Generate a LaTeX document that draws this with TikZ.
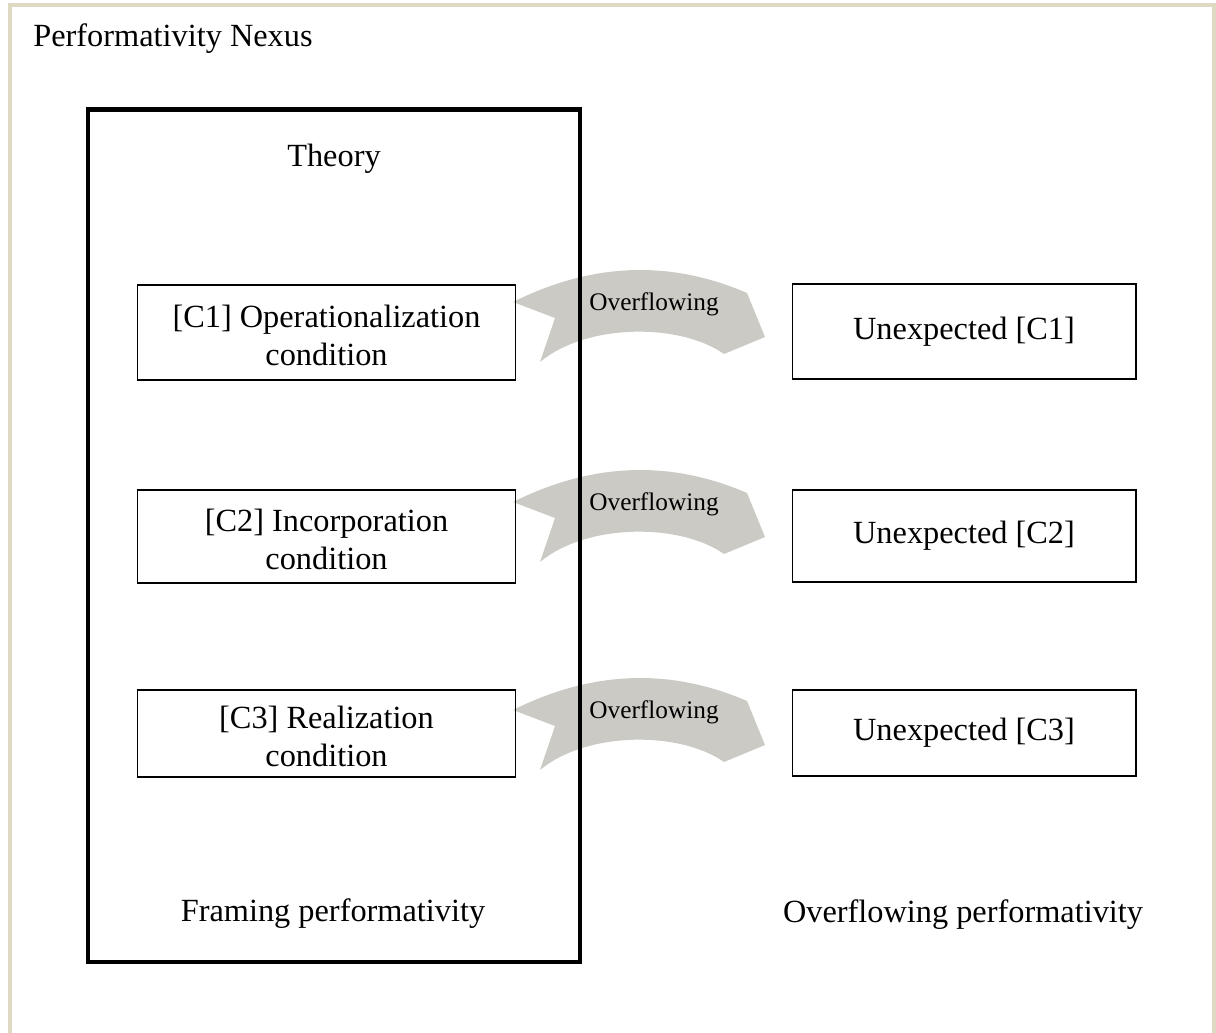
\documentclass[tikz,border=0pt]{standalone}
\usepackage{fontspec}
\setmainfont{Liberation Serif}
\definecolor{framecol}{HTML}{DDD9C3}
\definecolor{arrowgray}{HTML}{CBCAC5}
\begin{document}
\begin{tikzpicture}[x=0.02cm,y=-0.02cm,
  box/.style={draw=black, line width=0.6pt, inner sep=0pt, align=center,
    font=\fontsize{18.4}{21.6}\selectfont},
  ctext/.style={inner sep=0pt, align=center, font=\fontsize{18.4}{21.6}\selectfont},
  lbl/.style={inner sep=0pt, font=\fontsize{18.4}{21.6}\selectfont},
  small/.style={inner sep=0pt, font=\fontsize{14.4}{17}\selectfont},
  overarrow/.style={fill=arrowgray}]
\useasboundingbox (0,0) rectangle (1216,1033);
% outer frame
\draw[framecol, line width=2.3pt] (10,1033) -- (10,5) -- (1214,5) -- (1214,1033);
\node[lbl, anchor=base west] (title) at (33,47) {Performativity Nexus};

% curved block arrows
\foreach \dy/\n in {0/1,200/2,408/3} {
  \begin{scope}[shift={(0,\dy)}]
    \fill[overarrow] (513,302) .. controls (595,261) and (673,261) .. (747,293)
      -- (765,337) -- (724,354) .. controls (680,323) and (587,323) .. (540,362)
      -- (555,318) -- cycle;
    \node[small] (ov\n) at (654,304) {Overflowing};
  \end{scope}
}

% theory box
\node[draw=black, line width=2.6pt, minimum width=9.84cm, minimum height=17.05cm,
  inner sep=0pt] (theory) at (334,535.75) {};
\node[lbl, anchor=base] (theorylbl) at (334,167) {Theory};
\node[lbl, anchor=base] (framing) at (333,921) {Framing performativity};

% condition boxes
\node[box, minimum width=7.58cm, minimum height=1.9cm] (c1) at (326.5,332.5) {};
\node[ctext] (c1t) at (326.5,335) {[C1] Operationalization\\condition};
\node[box, minimum width=7.58cm, minimum height=1.86cm] (c2) at (326.5,536.5) {};
\node[ctext] (c2t) at (326.5,539) {[C2] Incorporation\\condition};
\node[box, minimum width=7.58cm, minimum height=1.74cm] (c3) at (326.5,733.5) {};
\node[ctext] (c3t) at (326.5,736) {[C3] Realization\\condition};

% unexpected boxes
\node[box, minimum width=6.88cm, minimum height=1.9cm] (u1) at (964,331.5) {Unexpected [C1]};
\node[box, minimum width=6.88cm, minimum height=1.84cm] (u2) at (964,536) {Unexpected [C2]};
\node[box, minimum width=6.88cm, minimum height=1.72cm] (u3) at (964,733) {Unexpected [C3]};

\node[lbl, anchor=base] (overflowlbl) at (963,922) {Overflowing performativity};
\end{tikzpicture}
\end{document}
